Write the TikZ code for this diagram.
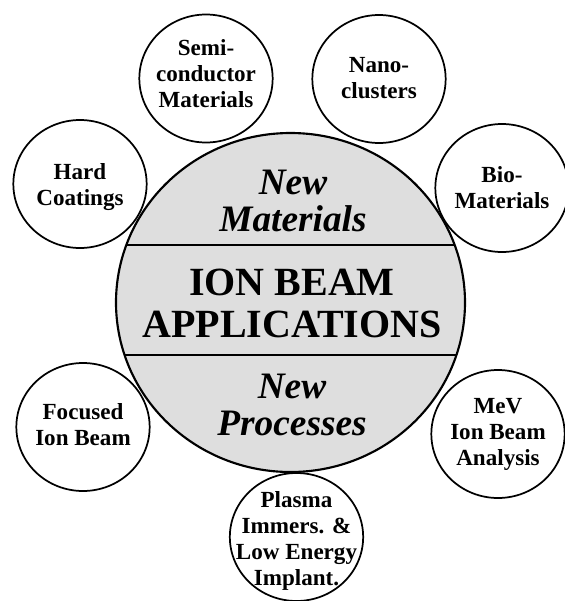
\documentclass[tikz,border=0pt]{standalone}
\usepackage{fontspec}
\setmainfont{Liberation Serif}
\usetikzlibrary{shapes.geometric}
\tikzset{
  bubble/.style={ellipse,draw,line width=1.3pt,minimum width=100pt,minimum height=96pt,inner sep=0pt},
  tag/.style={font=\bfseries\fontsize{17.3}{19.5}\selectfont,align=center,inner sep=0pt},
  big/.style={font=\bfseries\fontsize{30}{32}\selectfont,align=center,inner sep=0pt},
  bigit/.style={font=\bfseries\itshape\fontsize{28}{27.5}\selectfont,align=center,inner sep=0pt}
}
\begin{document}
\begin{tikzpicture}[x=0.75pt,y=0.75pt]
\useasboundingbox (0,0) rectangle (565,-601);
\clip (0,0) rectangle (565,-601);
% the big disc with its three bands
\coordinate (o) at (290.5,-302.5);
\fill[black!13] (o) ellipse[x radius=174.5,y radius=169.5];
\begin{scope}
\clip (o) ellipse[x radius=174.5,y radius=169.5];
\draw[line width=1.5pt] (100,-245)--(480,-245) (100,-355)--(480,-355);
\end{scope}
\draw[line width=1.6pt] (o) ellipse[x radius=174.5,y radius=169.5];
\node[bigit] (mat) at (293,-201) {New\\Materials};
\node[big] (ion) at (292,-303.5) {ION BEAM\\APPLICATIONS};
\node[bigit] (proc) at (292,-405) {New\\Processes};
% small circles round it
\node[bubble] (semi) at (206,-78.5) {};
\node[bubble] (nano) at (379,-79) {};
\node[bubble] (hard) at (80,-184) {};
\node[bubble] (bio) at (502,-188) {};
\node[bubble] (fib) at (83,-427) {};
\node[bubble] (mev) at (498,-434) {};
\node[bubble] (pii) at (296.5,-537) {};
\node[tag] (semi-t) at ([yshift=3.5pt]semi) {Semi-\\conductor\\Materials};
\node[tag] (nano-t) at ([yshift=1pt]nano) {Nano-\\clusters};
\node[tag] (hard-t) at ([yshift=-2pt]hard) {Hard\\Coatings};
\node[tag] (bio-t) at (bio) {Bio-\\Materials};
\node[tag] (fib-t) at ([yshift=2pt]fib) {Focused\\Ion Beam};
\node[tag] (mev-t) at (mev) {MeV\\Ion Beam\\Analysis};
\node[tag] (pii-t) at ([yshift=-3pt]pii) {Plasma\\Immers. \&\\Low Energy\\Implant.};
\end{tikzpicture}
\end{document}
